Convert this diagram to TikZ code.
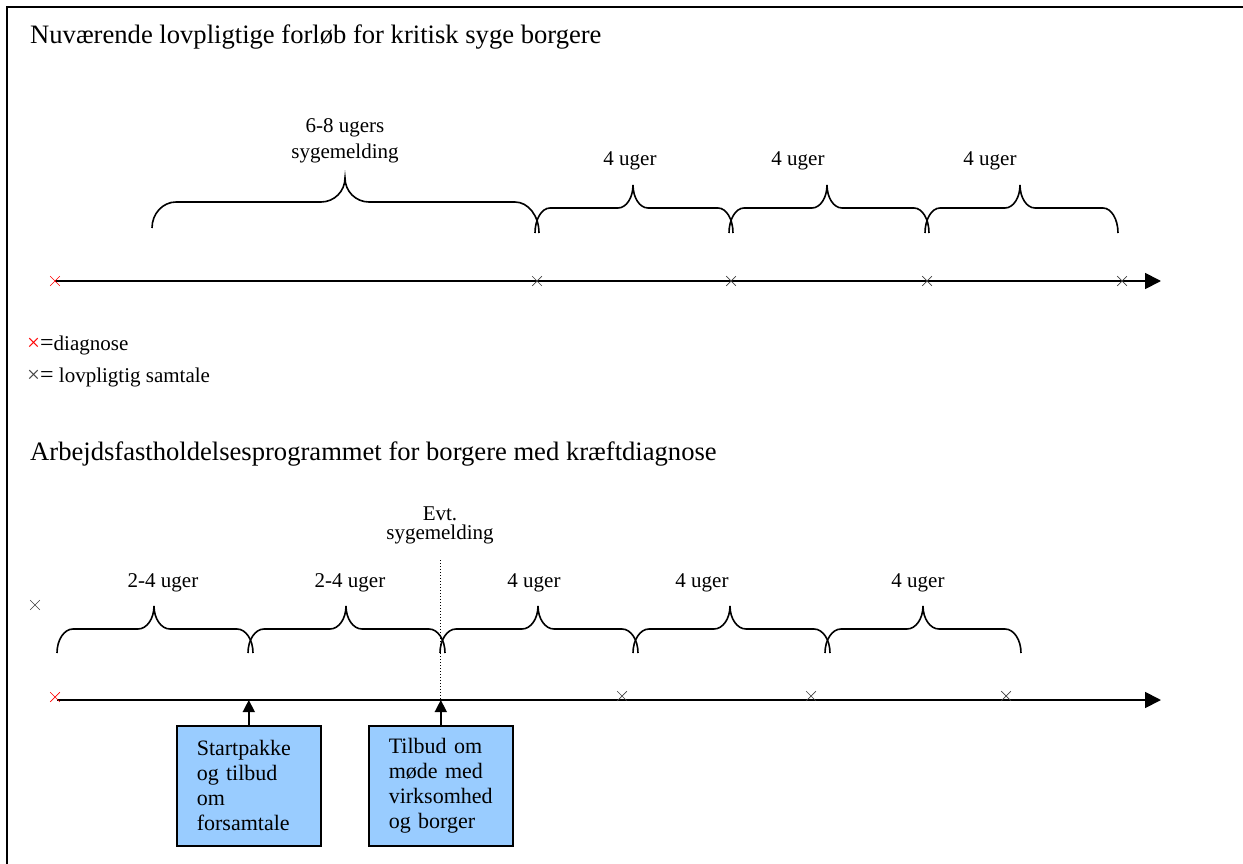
\documentclass[tikz,border=0pt]{standalone}
\usepackage{fontspec}
\setmainfont{Liberation Serif}
\usetikzlibrary{shapes.misc,arrows.meta}
\definecolor{boxblue}{HTML}{99CCFF}
\definecolor{talkgray}{HTML}{404040}
\newcommand\drawbrace[8]{% x1, yb1, xt, x2, yb2, yf, yt, r
  \draw[brc] (#1,#2) .. controls (#1,{#2-0.552*(#2-#6)}) and ({#1+0.448*#8},#6) .. ({#1+#8},#6)
    -- ({#3-#8},#6) .. controls ({#3-0.448*#8},#6) and (#3,{#7+0.552*(#6-#7)}) .. (#3,#7)
    .. controls (#3,{#7+0.552*(#6-#7)}) and ({#3+0.448*#8},#6) .. ({#3+#8},#6)
    -- ({#4-#8},#6) .. controls ({#4-0.448*#8},#6) and (#4,{#5-0.552*(#5-#6)}) .. (#4,#5);}
\newcommand\legx[1]{\textcolor{#1}{\fontsize{23}{24}\selectfont×}}
\newcommand\legeq{{\fontsize{24}{24}\selectfont=}}
\begin{document}
\begin{tikzpicture}[x=1pt,y=-1pt,
  frame/.style={line width=2pt},
  axis/.style={line width=1.8pt,-{Triangle[length=16pt,width=16pt]}},
  brc/.style={line width=1.6pt},
  diag/.style={cross out,draw=red,minimum size=9pt,inner sep=0pt,line width=0.7pt},
  talk/.style={cross out,draw=talkgray,minimum size=9pt,inner sep=0pt,line width=0.7pt},
  lbl/.style={anchor=base,inner sep=0pt,font=\fontsize{21}{25}\selectfont},
  ttl/.style={anchor=base west,inner sep=0pt,font=\fontsize{26.6}{30}\selectfont},
  legend/.style={anchor=base west,inner sep=0pt,font=\fontsize{21}{24}\selectfont},
  infobox/.style={draw,line width=1.6pt,fill=boxblue,minimum width=144pt,minimum height=120pt,
    text width=104pt,inner xsep=20pt,inner ysep=0pt,align=left,
    font=\fontsize{22}{25}\selectfont,anchor=north west},
  uparr/.style={line width=1.5pt,-{Triangle[length=12pt,width=12pt]}}
]
\useasboundingbox (0,0) rectangle (1243,864);
\draw[frame] (7,866) -- (7,7) -- (1245,7);

% ---------- top section ----------
\node[ttl] (title1) at (30,44) {Nuværende lovpligtige forløb for kritisk syge borgere};

\coordinate (a0) at (55,281);
\coordinate (aend) at (1161,281);
\draw[axis] (a0) -- (aend);
\node[diag] (am0) at (a0) {};
\node[talk] (am1) at (537,281) {};
\node[talk] (am2) at (731,281) {};
\node[talk] (am3) at (927,281) {};
\node[talk] (am4) at (1122,281) {};

\drawbrace{152}{228}{345}{539}{233}{202}{178}{24}
\drawbrace{535}{233}{633}{733}{233}{208}{185}{15}
\drawbrace{729}{233}{827}{929}{233}{208}{185}{15}
\drawbrace{925}{233}{1020}{1118}{233}{208}{185}{15}

\node[lbl] (l68a) at (345,133) {6-8 ugers};
\node[lbl] (l68b) at (345,159) {sygemelding};
\node[lbl] (l4a) at (630,166) {4 uger};
\node[lbl] (l4b) at (798,166) {4 uger};
\node[lbl] (l4c) at (990,166) {4 uger};

\node[legend] (leg1) at (27,350) {\legx{red}\legeq diagnose};
\node[legend] (leg2) at (27,382) {\legx{talkgray}\legeq{} lovpligtig samtale};

% ---------- bottom section ----------
\node[ttl] (title2) at (30,460) {Arbejdsfastholdelsesprogrammet for borgere med kræftdiagnose};

\node[lbl] (evt1) at (440,520) {Evt.};
\node[lbl] (evt2) at (440,539) {sygemelding};

\node[talk] (stray) at (35,605) {};

\coordinate (b0) at (57,700);
\coordinate (bend) at (1161,700);
\coordinate (dtop) at (440,560);
\draw[dotted,line width=1pt] (dtop) -- (dtop |- b0);
\draw[axis] (b0) -- (bend);
\node[diag] (bm0) at (55,697) {};
\node[talk] (bm1) at (622,696) {};
\node[talk] (bm2) at (811,696) {};
\node[talk] (bm3) at (1006,696) {};

\drawbrace{57}{653}{154}{253}{653}{629}{606}{16}
\drawbrace{248}{653}{346}{445}{653}{629}{606}{16}
\drawbrace{440}{653}{538}{638}{653}{629}{606}{16}
\drawbrace{633}{653}{730}{830}{653}{629}{606}{16}
\drawbrace{825}{653}{923}{1021}{653}{629}{606}{16}

\node[lbl] (w1) at (163,587) {2-4 uger};
\node[lbl] (w2) at (350,587) {2-4 uger};
\node[lbl] (w3) at (534,587) {4 uger};
\node[lbl] (w4) at (702,587) {4 uger};
\node[lbl] (w5) at (918,587) {4 uger};

\node[infobox] (box1) at (176,725) {Startpakke\\og tilbud\\om\\forsamtale};
\node[infobox] (box2) at (368,725) {Tilbud om\\møde med\\virksomhed\\og borger};
\draw[uparr] (box1.north) -- (box1.north |- b0);
\draw[uparr] (box2.north) -- (box2.north |- b0);
\end{tikzpicture}
\end{document}
